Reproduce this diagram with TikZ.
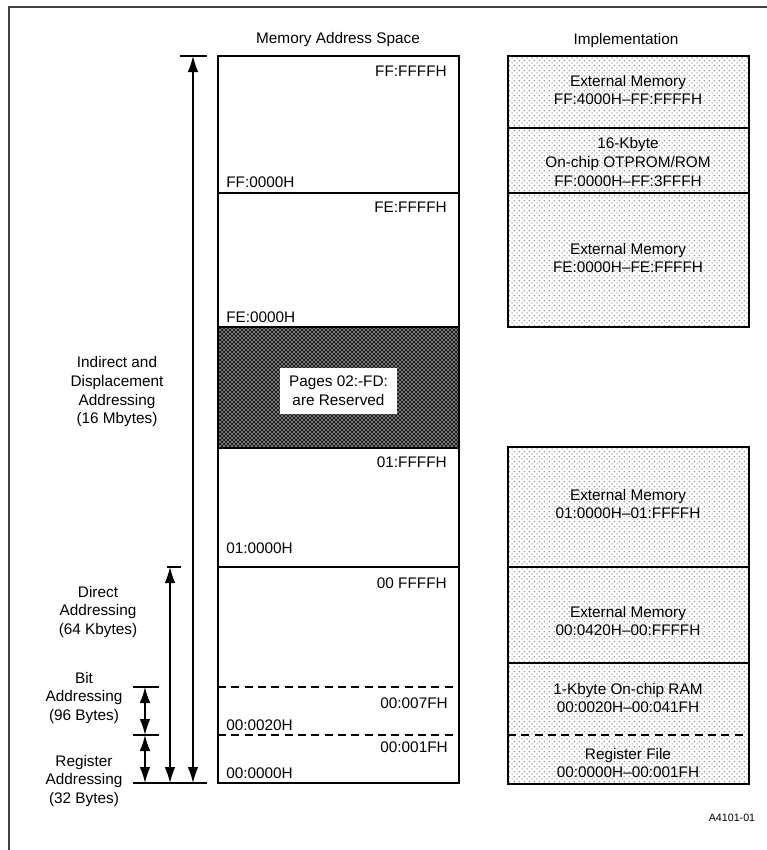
\documentclass[tikz,border=0pt]{standalone}
\usepackage{fontspec}
\setmainfont{Liberation Sans}
\usetikzlibrary{patterns,arrows.meta}
\pgfdeclarepatternformonly{sdots}{\pgfqpoint{0pt}{0pt}}{\pgfqpoint{3.8pt}{3.8pt}}{\pgfqpoint{3.8pt}{3.8pt}}{%
  \pgfpathcircle{\pgfqpoint{0.95pt}{0.95pt}}{0.5pt}%
  \pgfpathcircle{\pgfqpoint{2.85pt}{2.85pt}}{0.5pt}%
  \pgfusepath{fill}}
\begin{document}
\begin{tikzpicture}[x=0.75pt,y=-0.75pt,
  lbl/.style={font=\fontsize{11.5}{14}\selectfont, inner sep=0pt, align=center},
  box/.style={draw=black, line width=1.3pt},
  sep/.style={line width=1.3pt},
  dsep/.style={line width=1.2pt, dash pattern=on 6pt off 4pt},
  dotfill/.style={pattern=sdots, pattern color=black!80},
  tick/.style={line width=1.1pt},
  dim/.style={line width=1.1pt, {Latex[length=12pt,width=8pt]}-{Latex[length=12pt,width=8pt]}}
]
\useasboundingbox (0,0) rectangle (767,850);
% frame
\draw[line width=1.6pt, black!75] (9,870) -- (9,7) -- (790,7);

% titles
\node[lbl] (t1) at (338,40) {Memory Address Space};
\node[lbl] (t2) at (626,41) {Implementation};

% memory column
\fill[black!92] (218,327) rectangle (459,448);
\fill[pattern=crosshatch, pattern color=white!55!black] (218,327) rectangle (459,448);
\draw[box] (218,56) rectangle (459,783);
\draw[sep] (218,193) -- (459,193);
\draw[sep] (218,327) -- (459,327);
\draw[sep] (218,448) -- (459,448);
\draw[sep] (218,567) -- (459,567);
\draw[dsep] (218,687) -- (459,687);
\draw[dsep] (218,735) -- (459,735);
\node[lbl, fill=white, minimum width=88pt, minimum height=34pt] (res) at (338.5,391) {Pages 02:-FD:\\are Reserved};

\node[lbl, anchor=east] (a1) at (447,71) {FF:FFFFH};
\node[lbl, anchor=west] (a2) at (226,182) {FF:0000H};
\node[lbl, anchor=east] (a3) at (447,207) {FE:FFFFH};
\node[lbl, anchor=west] (a4) at (226,317) {FE:0000H};
\node[lbl, anchor=east] (a5) at (447,462) {01:FFFFH};
\node[lbl, anchor=west] (a6) at (226,548) {01:0000H};
\node[lbl, anchor=east] (a7) at (447,583) {00 FFFFH};
\node[lbl, anchor=east] (a8) at (448,703) {00:007FH};
\node[lbl, anchor=west] (a9) at (226,725) {00:0020H};
\node[lbl, anchor=east] (a10) at (448,747) {00:001FH};
\node[lbl, anchor=west] (a11) at (226,773) {00:0000H};

% implementation column
\fill[dotfill] (508,56) rectangle (749,327);
\draw[box] (508,56) rectangle (749,327);
\draw[sep] (508,128) -- (749,128);
\draw[sep] (508,193) -- (749,193);
\fill[dotfill] (508,447) rectangle (749,784);
\draw[box] (508,447) rectangle (749,784);
\draw[sep] (508,567) -- (749,567);
\draw[sep] (508,663) -- (749,663);
\draw[dsep] (508,735) -- (749,735);

\node[lbl] (i1) at (628,90) {External Memory\\FF:4000H–FF:FFFFH};
\node[lbl] (i2) at (628,162) {16-Kbyte\\On-chip OTPROM/ROM\\FF:0000H–FF:3FFFH};
\node[lbl] (i3) at (628,258) {External Memory\\FE:0000H–FE:FFFFH};
\node[lbl] (i4) at (628,504) {External Memory\\01:0000H–01:FFFFH};
\node[lbl] (i5) at (628,621) {External Memory\\00:0420H–00:FFFFH};
\node[lbl] (i6) at (628,698) {1-Kbyte On-chip RAM\\00:0020H–00:041FH};
\node[lbl] (i7) at (628,763) {Register File\\00:0000H–00:001FH};

% dimension lines
\coordinate (bigT) at (193,56);
\coordinate (bigB) at (193,783);
\coordinate (dirT) at (170,567);
\coordinate (dirB) at (170,783);
\coordinate (bitT) at (145,687);
\coordinate (bitB) at (145,735);
\coordinate (regT) at (145,735);
\coordinate (regB) at (145,783);
\draw[tick] (180,56) -- (207,56);
\draw[tick] (167,567) -- (181,567);
\draw[tick] (133,687) -- (159,687);
\draw[tick] (133,735) -- (159,735);
\draw[tick] (133,783) -- (207,783);
\draw[dim] (bigT) -- (bigB);
\draw[dim] (dirT) -- (dirB);
\draw[dim] (bitT) -- (bitB);
\draw[dim] (regT) -- (regB);

\node[lbl] (l1) at (117,392) {Indirect and\\Displacement\\Addressing\\(16 Mbytes)};
\node[lbl] (l2) at (98,612) {Direct\\Addressing\\(64 Kbytes)};
\node[lbl] (l3) at (84,698) {Bit\\Addressing\\(96 Bytes)};
\node[lbl] (l4) at (84,781) {Register\\Addressing\\(32 Bytes)};

\node[lbl, font=\fontsize{8}{9}\selectfont] (fig) at (732,818) {A4101-01};
\end{tikzpicture}
\end{document}
